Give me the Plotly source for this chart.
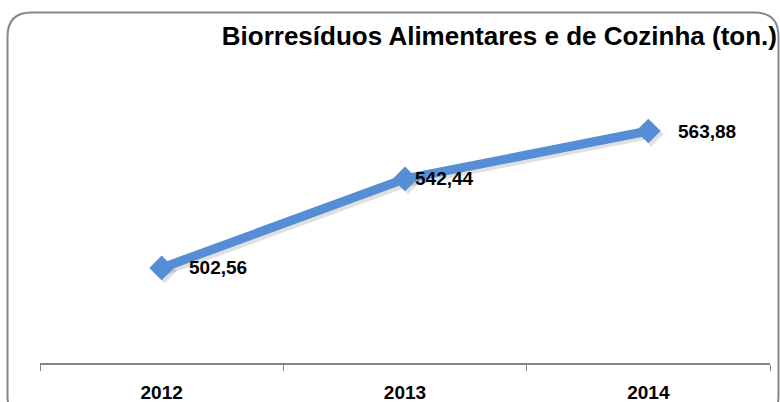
import plotly.graph_objects as go

# ── DATA ────────────────────────────────────────────────────────────────────
years = ["2012", "2013", "2014"]
tons = [502.56, 542.44, 563.88]
labels = ["502,56", "542,44", "563,88"]

TITLE = "Biorresíduos Alimentares e de Cozinha (ton.)"
BLUE = "#558ed5"
FONT = "Liberation Sans Narrow, Arial Narrow, Liberation Sans, Arial, sans-serif"

W, H = 780, 402
L, R, T, B = 40, 10, 95, 39
PW, PH = W - L - R, H - T - B


def px_to_paper(x, y):
    return (x - L) / PW, (H - B - y) / PH


def rounded_frame(x0, y0, x1, y1, r):
    """SVG path (paper coords) for the rounded chart border."""
    pts = [
        ("M", (x0 + r, y0)), ("L", (x1 - r, y0)), ("Q", (x1, y0), (x1, y0 + r)),
        ("L", (x1, y1 - r)), ("Q", (x1, y1), (x1 - r, y1)),
        ("L", (x0 + r, y1)), ("Q", (x0, y1), (x0, y1 - r)),
        ("L", (x0, y0 + r)), ("Q", (x0, y0), (x0 + r, y0)),
    ]
    out = []
    for cmd, *ps in pts:
        coords = " ".join("%.5f,%.5f" % px_to_paper(*p) for p in ps)
        out.append(f"{cmd} {coords}")
    return " ".join(out) + " Z"


fig = go.Figure()

# soft drop shadow: same data on the (hidden, slightly shifted) base axes,
# so it is drawn underneath the overlay subplot that holds the real line
fig.add_trace(go.Scatter(
    x=years, y=tons, mode="lines+markers",
    line=dict(color="rgba(0,0,0,0.12)", width=9),
    marker=dict(symbol="diamond", size=19, color="rgba(0,0,0,0.12)"),
    hoverinfo="skip", showlegend=False,
))

fig.add_trace(go.Scatter(
    x=years, y=tons, mode="lines+markers", xaxis="x2", yaxis="y2",
    line=dict(color=BLUE, width=9),
    marker=dict(symbol="diamond", size=19, color=BLUE),
    showlegend=False,
))

# value labels, to the right of each point (category index for x)
for i, (v, lab, dx) in enumerate(zip(tons, labels, [25, 8, 28])):
    fig.add_annotation(
        x=i, y=v, xref="x2", yref="y2", text=lab, showarrow=False,
        xanchor="left", yanchor="middle", xshift=dx, yshift=0,
        font=dict(family=FONT, size=19, color="#000000", weight="bold"),
    )

fig.add_shape(
    type="path", xref="paper", yref="paper", layer="below",
    path=rounded_frame(7.5, 12.5, 778.5, 420, 24),
    line=dict(color="#878787", width=2),
)

fig.update_layout(
    width=W, height=H,
    margin=dict(l=L, r=R, t=T, b=B, pad=0),
    paper_bgcolor="white", plot_bgcolor="white",
    title=dict(
        text=TITLE, xref="container", yref="container",
        x=777 / W, xanchor="right", y=1 - 36 / H, yanchor="middle",
        font=dict(family=FONT, size=26, color="#000000", weight="bold"),
    ),
    xaxis=dict(
        type="category", range=[-0.512, 2.488], visible=False,
        showgrid=False, zeroline=False, automargin=False,
    ),
    yaxis=dict(
        range=[461.4, 581.4], visible=False, showgrid=False, zeroline=False,
        automargin=False,
    ),
    xaxis2=dict(
        type="category", range=[-0.5, 2.5], overlaying="x", side="bottom",
        tickson="boundaries",
        showline=True, linecolor="#868686", linewidth=2,
        ticks="outside", ticklen=6, tickwidth=1, tickcolor="#868686",
        showgrid=False, zeroline=False, automargin=False,
        tickfont=dict(family=FONT, size=19, color="#000000", weight="bold"),
        ticklabelstandoff=11,
    ),
    yaxis2=dict(
        range=[460, 580], overlaying="y", visible=False, showgrid=False,
        zeroline=False, automargin=False,
    ),
)

# drop the browser's default 8px body margin so the figure sits at (0, 0)
fig.write_html(
    "out.html",
    config={"displayModeBar": False},
    post_script="document.body.style.margin='0';",
)
